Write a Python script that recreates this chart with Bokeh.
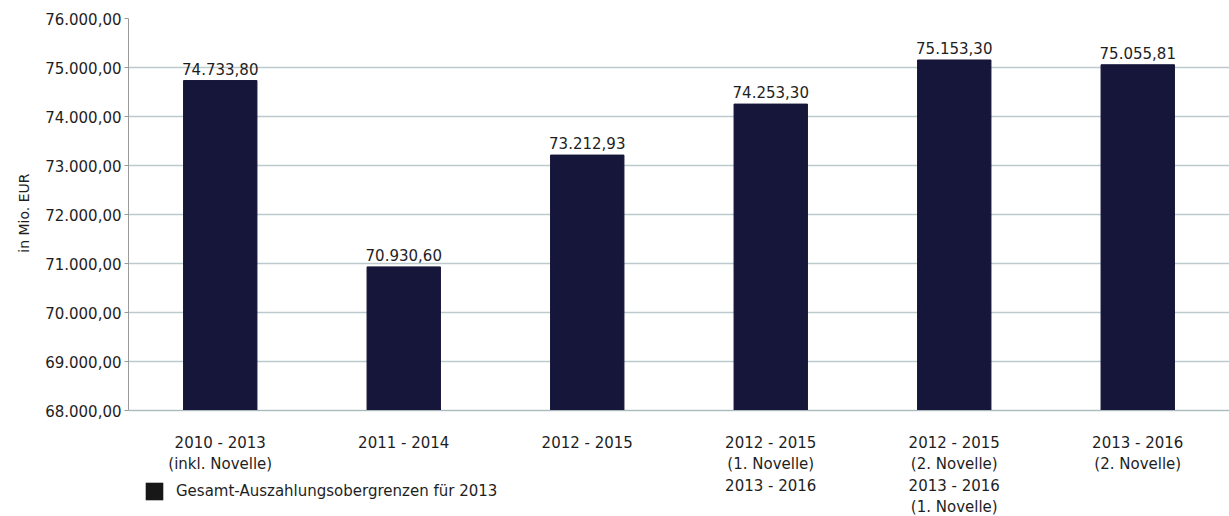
from bokeh.plotting import figure
from bokeh.models import (FactorRange, Range1d, FixedTicker, Legend, LegendItem,
                          ColumnDataSource, Title)
from bokeh.core.properties import value
from bokeh.embed import file_html
from bokeh.resources import INLINE

categories = [
    "2010 - 2013\n(inkl. Novelle)",
    "2011 - 2014",
    "2012 - 2015",
    "2012 - 2015\n(1. Novelle)\n2013 - 2016",
    "2012 - 2015\n(2. Novelle)\n2013 - 2016\n(1. Novelle)",
    "2013 - 2016\n(2. Novelle)",
]
values = [74733.80, 70930.60, 73212.93, 74253.30, 75153.30, 75055.81]
value_labels = ["74.733,80", "70.930,60", "73.212,93", "74.253,30", "75.153,30", "75.055,81"]
y_ticks = [68000, 69000, 70000, 71000, 72000, 73000, 74000, 75000, 76000]
y_tick_labels = ["68.000,00", "69.000,00", "70.000,00", "71.000,00", "72.000,00",
                 "73.000,00", "74.000,00", "75.000,00", "76.000,00"]
series_name = "Gesamt-Auszahlungsobergrenzen für 2013"
y_title = "in Mio. EUR"

FONT = "DejaVu Sans"
BAR = "#16153a"
TXT = "#1e1e1e"
Y_MIN, Y_MAX = 68000, 76000
# frame runs from 18px to the bottom of the canvas; 68000 sits at 410px
Y_START = Y_MAX - (516 - 18) * (Y_MAX - Y_MIN) / (410 - 18)

p = figure(width=1229, height=516, output_backend="svg", toolbar_location=None,
           x_range=FactorRange(*categories, range_padding=0),
           y_range=Range1d(Y_START, Y_MAX),
           min_border_left=128, min_border_right=0, min_border_top=18, min_border_bottom=0)
p.outline_line_color = None
p.background_fill_color = "white"
p.border_fill_color = "white"

src = ColumnDataSource(dict(x=categories, top=values, lab=value_labels))
bars = p.vbar(x="x", top="top", bottom=Y_MIN, width=0.4, source=src,
              fill_color=BAR, line_color=BAR)
p.text(x="x", y="top", text="lab", source=src, text_align="center",
       text_baseline="bottom", y_offset=-6, text_font_size="15px",
       text_color=TXT, text_font=value(FONT))

# legend swatch: zero-height stand-in with the darker key colour of the reference
key_src = ColumnDataSource(dict(x=categories[:1], top=[Y_MIN]))
key = p.vbar(x="x", top="top", bottom=Y_MIN, width=0.4, source=key_src,
             fill_color="#171717", line_color=None)

# y axis
p.yaxis.ticker = FixedTicker(ticks=y_ticks)
p.yaxis.bounds = (Y_MIN, Y_MAX)
p.yaxis.major_label_overrides = {t: l for t, l in zip(y_ticks, y_tick_labels)}
p.yaxis.major_label_text_font = FONT
p.yaxis.major_label_text_font_size = "15px"
p.yaxis.major_label_text_color = TXT
p.yaxis.axis_line_color = "#9a9a9a"
p.yaxis.major_tick_line_color = "#9a9a9a"
p.yaxis.major_tick_out = 4
p.yaxis.major_tick_in = 0
p.yaxis.minor_tick_line_color = None
p.yaxis.major_label_standoff = 3

p.add_layout(Title(text=y_title, align="right", offset=155,
                   text_font=FONT, text_font_size="14px", text_font_style="normal",
                   text_color=TXT, standoff=22), "left")

# x axis pinned at 68.000
p.xaxis.fixed_location = Y_MIN
p.xaxis.major_label_text_font = FONT
p.xaxis.major_label_text_font_size = "15px"
p.xaxis.major_label_text_color = TXT
p.xaxis.axis_line_color = "#a9b9bc"
p.xaxis.major_tick_line_color = None
p.xaxis.major_label_standoff = 17

p.xgrid.grid_line_color = None
p.ygrid.grid_line_color = "#bccacd"
p.ygrid.grid_line_width = 1.5

legend = Legend(items=[LegendItem(label=series_name, renderers=[key])],
                location=(15, 14), orientation="horizontal",
                padding=0, margin=0, glyph_width=22, glyph_height=22,
                label_text_font=FONT, label_text_font_size="15px",
                label_text_color=TXT, border_line_color=None,
                background_fill_alpha=0, label_standoff=11)
p.add_layout(legend, "center")

open("out.html", "w").write(file_html(p, INLINE))
